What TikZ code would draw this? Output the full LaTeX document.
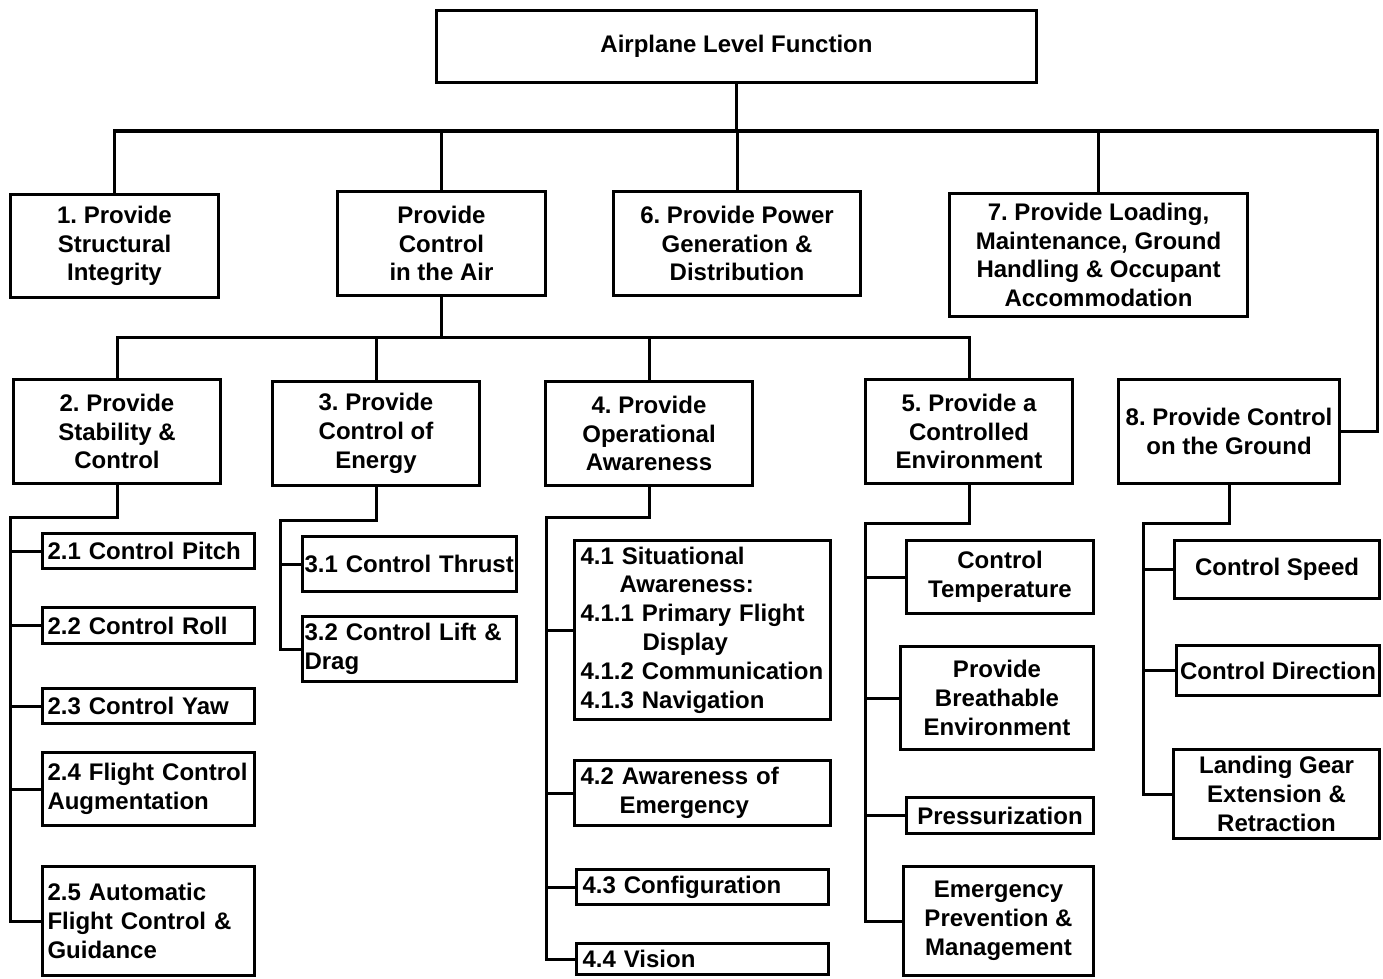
\documentclass[tikz,border=0pt]{standalone}
\usepackage{fontspec}
\setmainfont{Liberation Sans}
\frenchspacing
\begin{document}
\begin{tikzpicture}[x=1pt,y=-1pt,
  line width=3pt, line join=miter,
  every node/.style={font=\fontsize{24}{28.8}\selectfont\bfseries},
  cbox/.style={draw, align=center, inner sep=0pt},
  lbox/.style={draw, align=left, inner ysep=0pt, inner xsep=5pt},
  link/.style={line width=3pt}]
\useasboundingbox (0,0) rectangle (1383,979);

% top level
\node[cbox, minimum width=600, minimum height=72] (top) at (736.5,46.5) {Airplane Level Function};

% first level
\node[cbox, minimum width=208, minimum height=103] (n1) at (114.5,246) {1. Provide\\Structural\\Integrity};
\node[cbox, minimum width=208, minimum height=104] (nair) at (441.5,243.5) {Provide\\Control\\in the Air};
\node[cbox, minimum width=247, minimum height=104] (n6) at (737,243.5) {6. Provide Power\\Generation \&\\Distribution};
\node[cbox, minimum width=298, minimum height=123] (n7) at (1098.5,255) {7. Provide Loading,\\Maintenance, Ground\\Handling \& Occupant\\Accommodation};
\node[cbox, minimum width=221, minimum height=104] (n8) at (1229,431.5) {8. Provide Control\\on the Ground};

% control in the air
\node[cbox, minimum width=207, minimum height=104] (n2) at (117,431.5) {2. Provide\\Stability \&\\Control};
\node[cbox, minimum width=207, minimum height=104] (n3) at (376,433.5) {3. Provide\\Control of\\Energy};
\node[cbox, minimum width=207, minimum height=104] (n4) at (649,433.5) {4. Provide\\Operational\\Awareness};
\node[cbox, minimum width=207, minimum height=104] (n5) at (969,431.5) {5. Provide a\\Controlled\\Environment};

% stability and control
\node[lbox, text width=202, minimum height=35] (n21) at (148.5,551) {2.1 Control Pitch};
\node[lbox, text width=202, minimum height=36] (n22) at (148.5,625.5) {2.2 Control Roll};
\node[lbox, text width=202, minimum height=35] (n23) at (148.5,706) {2.3 Control Yaw};
\node[lbox, text width=202, minimum height=73] (n24) at (148.5,789) {2.4 Flight Control\\Augmentation};
\node[lbox, text width=202, minimum height=109] (n25) at (148.5,921) {2.5 Automatic\\Flight Control \&\\Guidance};

% energy
\node[lbox, inner xsep=2pt, text width=210, minimum height=55] (n31) at (409.5,564) {3.1 Control Thrust};
\node[lbox, inner xsep=2pt, text width=210, minimum height=65] (n32) at (409.5,649) {3.2 Control Lift \&\\Drag};

% operational awareness
\node[lbox, inner xsep=6pt, text width=244, minimum height=179] (n41) at (702.5,630)
  {4.1 Situational\\\hspace*{39pt}Awareness:\\4.1.1 Primary Flight\\\hspace*{62pt}Display\\4.1.2 Communication\\4.1.3 Navigation};
\node[lbox, inner xsep=6pt, text width=244, minimum height=65] (n42) at (702.5,793) {4.2 Awareness of\\\hspace*{39pt}Emergency};
\node[lbox, inner xsep=6pt, text width=240, minimum height=35] (n43) at (702.5,887) {4.3 Configuration};
\node[lbox, inner xsep=6pt, text width=240, minimum height=31] (n44) at (702.5,959) {4.4 Vision};

% controlled environment
\node[cbox, minimum width=187, minimum height=73] (nct) at (1000,577) {Control\\Temperature};
\node[cbox, minimum width=193, minimum height=103] (nbr) at (997,698) {Provide\\Breathable\\Environment};
\node[cbox, minimum width=187, minimum height=36] (npr) at (1000,815.5) {Pressurization};
\node[cbox, minimum width=190, minimum height=109] (nem) at (998.5,921) {Emergency\\Prevention \&\\Management};

% control on the ground
\node[cbox, minimum width=205, minimum height=58] (ncs) at (1277,569.5) {Control Speed};
\node[cbox, minimum width=203, minimum height=50] (ncd) at (1278,670.5) {Control Direction};
\node[cbox, minimum width=206, minimum height=89] (nlg) at (1276.5,794) {Landing Gear\\Extension \&\\Retraction};

% bus lines
\coordinate (bus1) at (1377,131);
\coordinate (bus2) at (969,337);
\coordinate (s2) at (10,517);
\coordinate (s3) at (280,520);
\coordinate (s4) at (546,517);
\coordinate (s5) at (865,523);
\coordinate (s8) at (1143,523);

% top level connectors
\draw[link] (n1.north) |- (bus1) |- (n8.east);
\draw[link] (top.south) -- (top.south |- bus1);
\draw[link] (nair.north) -- (nair.north |- bus1);
\draw[link] (n6.north) -- (n6.north |- bus1);
\draw[link] (n7.north) -- (n7.north |- bus1);

% control in the air connectors
\draw[link] (n2.north) |- (bus2) -- (n5.north);
\draw[link] (nair.south) -- (nair.south |- bus2);
\draw[link] (n3.north) -- (n3.north |- bus2);
\draw[link] (n4.north) -- (n4.north |- bus2);

% child trees
\draw[link] (n2.south) |- (s2) |- (n25.west);
\foreach \c in {n21,n22,n23,n24} \draw[link] (\c.west) -- (\c.west -| s2);
\draw[link] (n3.south) |- (s3) |- (n32.west);
\draw[link] (n31.west) -- (n31.west -| s3);
\draw[link] (n4.south) |- (s4) |- (n44.west);
\foreach \c in {n41,n42,n43} \draw[link] (\c.west) -- (\c.west -| s4);
\draw[link] (n5.south) |- (s5) |- (nem.west);
\foreach \c in {nct,nbr,npr} \draw[link] (\c.west) -- (\c.west -| s5);
\draw[link] (n8.south) |- (s8) |- (nlg.west);
\foreach \c in {ncs,ncd} \draw[link] (\c.west) -- (\c.west -| s8);
\end{tikzpicture}
\end{document}
